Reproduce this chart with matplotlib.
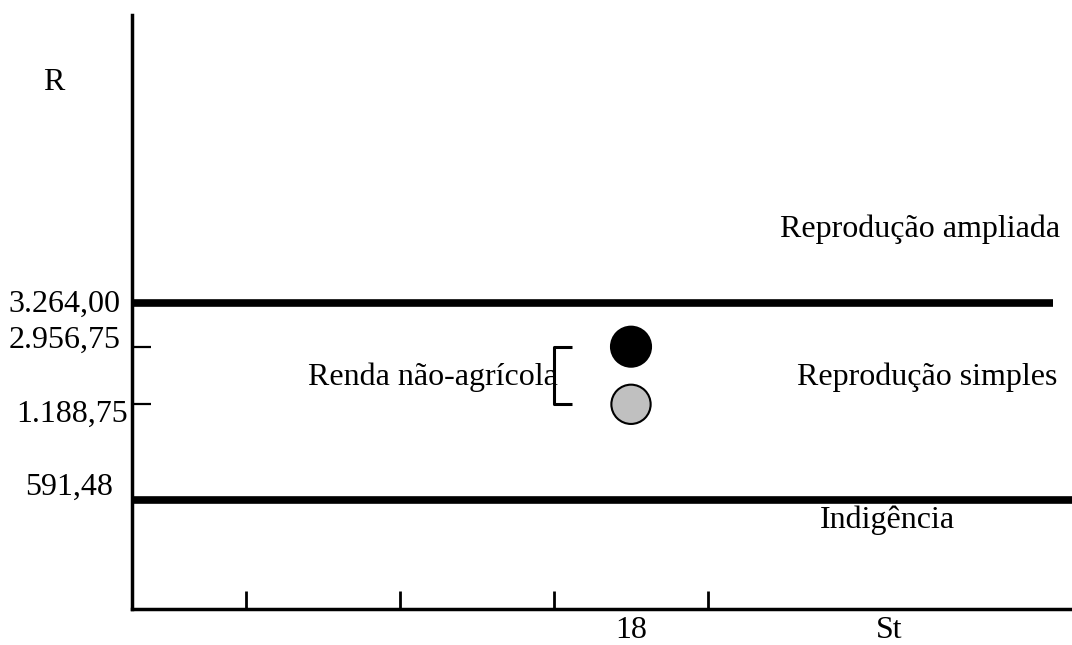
import numpy as np
import matplotlib
matplotlib.use('Agg')
import matplotlib.pyplot as plt
from matplotlib.scale import FuncScale
from matplotlib.transforms import ScaledTranslation

plt.rcParams['font.family'] = ['Liberation Serif', 'DejaVu Serif']

# Limites de renda (R) e renda não-agrícola dos estabelecimentos
limite_ampliada = 3264.00
limite_indigencia = 591.48
renda_nao_agricola = [2956.75, 1188.75]
cores_pontos = ['black', '#c0c0c0']
rotulos_y = ['3.264,00', '2.956,75', '1.188,75', '591,48']
valores_y = [3264.00, 2956.75, 1188.75, 591.48]

# Eixo St: marcas e posição do grupo "18"
marcas_x = [1, 2, 3, 4]
pos_18 = 3.5
rotulo_x = '18'

# Escala esquemática (não proporcional) do eixo R
nos_valor = np.array([0, 591.48, 1188.75, 2956.75, 3264.00, 6500.0])
nos_pos = np.array([0, 0.1827, 0.3446, 0.4416, 0.5152, 1.0])


def frente(v):
    return np.interp(v, nos_valor, nos_pos)


def inversa(p):
    return np.interp(p, nos_pos, nos_valor)


W, H = 1072, 645
fig = plt.figure(figsize=(W / 100, H / 100), dpi=100)
ax = fig.add_axes([131.5 / W, (H - 609) / H, (W - 131.5) / W, 594 / H])
ax.set_yscale(FuncScale(ax, (frente, inversa)))
ax.set_ylim(0, 6500)
ax.set_xlim(0.2565, 6.3636)

for lado in ['top', 'right']:
    ax.spines[lado].set_visible(False)
for lado in ['left', 'bottom']:
    ax.spines[lado].set_linewidth(2.5)

# Linhas de reprodução ampliada e indigência
ax.hlines(limite_ampliada, 0.2565, 6.24, color='black', lw=5.5)
ax.axhline(limite_indigencia, color='black', lw=5.5)

# Pontos de renda não-agrícola
ax.scatter([pos_18, pos_18], renda_nao_agricola, s=[830, 800],
           c=cores_pontos, edgecolors='black', linewidths=1.5, zorder=3)

# Colchete ligando os dois valores
ax.plot([3.12, 3.0, 3.0, 3.12],
        [renda_nao_agricola[0], renda_nao_agricola[0],
         renda_nao_agricola[1], renda_nao_agricola[1]],
        color='black', lw=2.2, solid_capstyle='butt')

# Eixo x
ax.set_xticks(marcas_x)
ax.set_xticklabels([])
ax.tick_params(axis='x', direction='in', length=13, width=2.0)

# Eixo y: marcas só nos valores de renda, rótulos deslocados
ax.set_yticks(valores_y)
ax.set_yticklabels(rotulos_y, fontsize=23)
ax.tick_params(axis='y', direction='in', length=13.5, width=1.6, pad=0)
desloc = {'3.264,00': (-10.8, 8.7), '2.956,75': (-10.8, 1.3),
          '1.188,75': (-3.5, 17.4), '591,48': (-18.8, -5.5)}
for lab in ax.get_yticklabels():
    dx, dy = desloc[lab.get_text()]
    lab.set_va('baseline')
    lab.set_transform(lab.get_transform() +
                      ScaledTranslation(dx / 100, -dy / 100, fig.dpi_scale_trans))


def px(x, y):
    return x / W, 1 - y / H


fs = 23
fig.text(*px(43, 90), 'R', fontsize=fs, va='baseline')
fig.text(*px(780, 237), 'Reprodução ampliada', fontsize=fs, va='baseline')
fig.text(*px(797, 385), 'Reprodução simples', fontsize=fs, va='baseline')
fig.text(*px(820, 528), 'Indigência', fontsize=fs, va='baseline')
fig.text(*px(308, 385), 'Renda não-agrícola', fontsize=fs, va='baseline')
ax.text(pos_18, 0, rotulo_x, fontsize=fs, ha='center', va='baseline',
        transform=ax.get_xaxis_transform() +
        ScaledTranslation(0, -29 / 100, fig.dpi_scale_trans))
fig.text(*px(889, 638), 'St', fontsize=fs, ha='center', va='baseline')

fig.savefig('out.png', dpi=100)
